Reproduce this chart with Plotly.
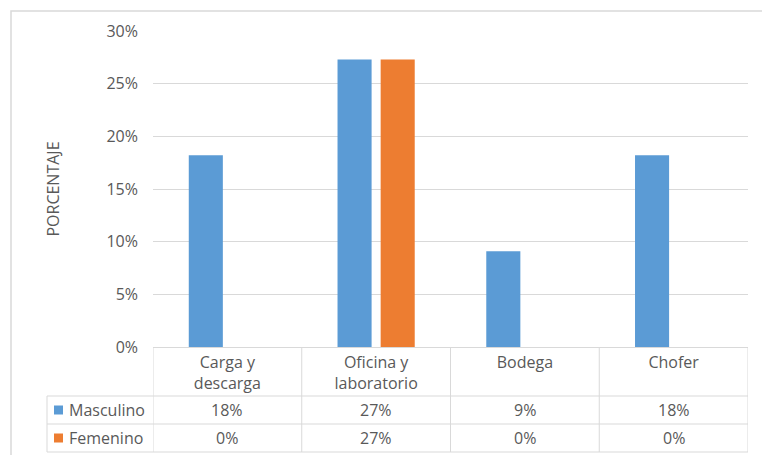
"""Distribución por área y sexo — barras agrupadas con tabla de datos al pie (estilo Excel)."""

import plotly.graph_objects as go

CATEGORIAS = ["Carga y descarga", "Oficina y laboratorio", "Bodega", "Chofer"]
ETIQUETAS = ["Carga y<br>descarga", "Oficina y<br>laboratorio", "Bodega", "Chofer"]
MASCULINO = [0.182, 0.273, 0.091, 0.182]
FEMENINO = [0.0, 0.273, 0.0, 0.0]
SERIES = [("Masculino", MASCULINO), ("Femenino", FEMENINO)]

COLORES = {"Masculino": "#5b9bd5", "Femenino": "#ed7d31"}
TEXTO = "#595959"
LINEA = "#d9d9d9"
FONT = "Open Sans, Noto Sans, sans-serif"
FS = 16

W, H = 762, 455
# área de trazado en píxeles: x 153..748, y 31..347
L, T = 153, 31
R, B = W - 748, H - 347
PW, PH = W - L - R, H - T - B


def px_x(px):
    return (px - L) / PW


def px_y(py):
    return (H - B - py) / PH


fig = go.Figure()
for nombre, valores in SERIES:
    fig.add_trace(
        go.Bar(
            x=CATEGORIAS,
            y=valores,
            name=nombre,
            marker=dict(color=COLORES[nombre], line=dict(width=0)),
            hovertemplate="%{x}: %{y:.0%}<extra>" + nombre + "</extra>",
        )
    )

shapes = []
# marco exterior del gráfico (continúa fuera de la ventana por la derecha y abajo)
shapes.append(
    dict(type="rect", xref="paper", yref="paper",
         x0=px_x(11), x1=px_x(790), y0=px_y(11), y1=px_y(490),
         line=dict(color=LINEA, width=1.5), layer="below")
)
# filas de la tabla de datos
for py in (396, 424, 452):
    shapes.append(dict(type="line", xref="paper", yref="paper",
                       x0=px_x(47), x1=1, y0=px_y(py), y1=px_y(py),
                       line=dict(color=LINEA, width=1)))
shapes.append(dict(type="line", xref="paper", yref="paper",
                   x0=px_x(47), x1=px_x(47), y0=px_y(396), y1=px_y(452),
                   line=dict(color=LINEA, width=1)))
# columnas: límites entre categorías
for i in range(len(CATEGORIAS) + 1):
    shapes.append(dict(type="line", xref="x", yref="paper",
                       x0=i - 0.5, x1=i - 0.5, y0=0, y1=px_y(452),
                       line=dict(color=LINEA, width=1)))

annotations = []
filas_y = {"Masculino": 410, "Femenino": 438}
for nombre, valores in SERIES:
    yc = px_y(filas_y[nombre])
    for cat, v in zip(CATEGORIAS, valores):
        annotations.append(dict(x=cat, xref="x", y=yc, yref="paper", text=f"{v:.0%}",
                                showarrow=False, font=dict(size=FS, color=TEXTO),
                                xanchor="center", yanchor="middle"))
    # leyenda dentro de la tabla
    shapes.append(dict(type="rect", xref="paper", yref="paper",
                       x0=px_x(54), x1=px_x(63), y0=yc - 4.5 / PH, y1=yc + 4.5 / PH,
                       fillcolor=COLORES[nombre], line=dict(width=0)))
    annotations.append(dict(x=px_x(67), xref="paper", y=yc, yref="paper", text=nombre,
                            showarrow=False, font=dict(size=FS, color=TEXTO),
                            xanchor="left", yanchor="middle"))

fig.update_layout(
    width=W,
    height=H,
    template="none",
    paper_bgcolor="white",
    plot_bgcolor="white",
    font=dict(family=FONT, color=TEXTO, size=FS),
    margin=dict(l=L, r=R, t=T, b=B, autoexpand=False),
    showlegend=False,
    barmode="group",
    bargap=0.42,
    bargroupgap=0.21,
    shapes=shapes,
    annotations=annotations,
)
fig.update_xaxes(
    tickmode="array",
    tickvals=CATEGORIAS,
    ticktext=ETIQUETAS,
    showgrid=False,
    showline=True,
    linecolor=LINEA,
    linewidth=1,
    ticks="",
    ticklabelstandoff=1,
    tickfont=dict(size=FS, color=TEXTO),
    range=[-0.5, len(CATEGORIAS) - 0.5],
)
fig.update_yaxes(
    range=[0, 0.30],
    dtick=0.05,
    tickformat=".0%",
    gridcolor=LINEA,
    gridwidth=1,
    zeroline=False,
    showline=False,
    ticks="",
    ticklabelstandoff=14,
    tickfont=dict(size=FS, color=TEXTO),
    title=dict(text="PORCENTAJE", standoff=42, font=dict(size=FS, color=TEXTO)),
    automargin=False,
)
# sin margen del <body> para que la figura ocupe exactamente la ventana
fig.write_html(
    "out.html",
    config={"displayModeBar": False},
    post_script="document.body.style.margin='0';document.body.style.overflow='hidden';",
)
